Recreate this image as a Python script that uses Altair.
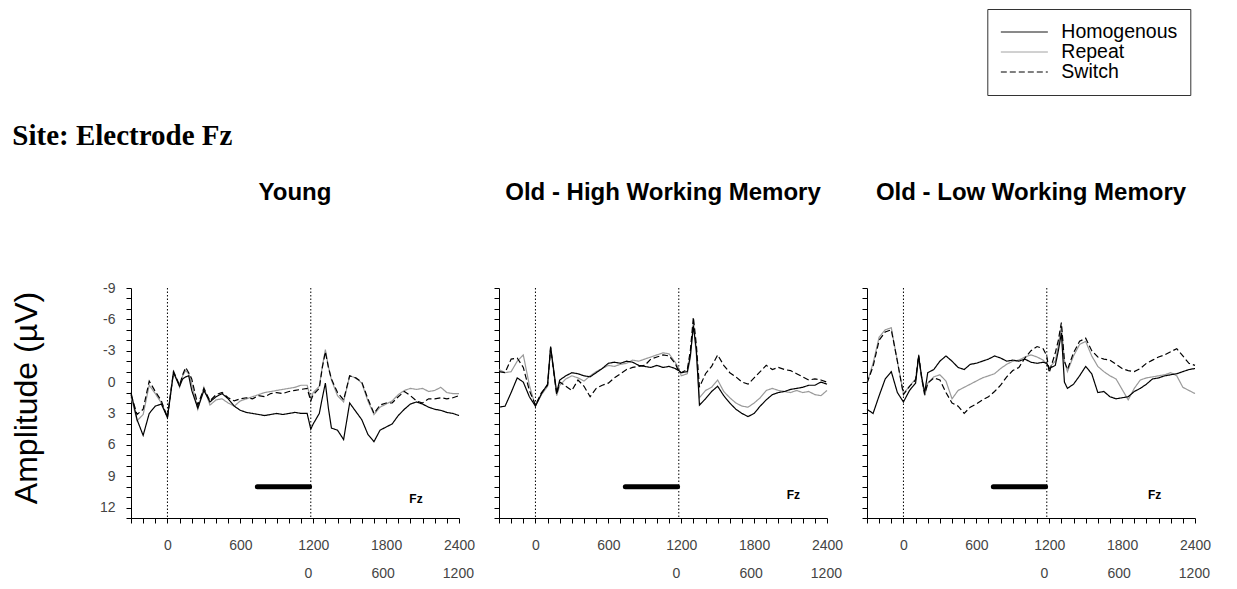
import altair as alt
import pandas as pd

# ---------------- data ----------------
TIMES = [-300, -250, -200, -150, -100, -50, 0, 50, 100, 125,
         150, 175, 200, 250, 300, 350, 400, 450, 500, 550,
         600, 650, 700, 750, 800, 850, 900, 950, 1000, 1050,
         1100, 1150, 1180, 1200, 1250, 1275, 1300, 1325, 1350, 1400,
         1450, 1500, 1550, 1600, 1650, 1700, 1750, 1800, 1850, 1900,
         1950, 2000, 2050, 2100, 2150, 2200, 2250, 2300, 2350, 2400]

CONDITIONS = ["Homogenous", "Repeat", "Switch"]
PANEL_TITLES = ["Young", "Old - High Working Memory", "Old - Low Working Memory"]

YOUNG_HOM = [1.0, 3.6, 5.1, 3.0, 2.3, 2.1, 3.4, -0.9, 0.4, -0.3,
             -0.5, -0.6, 0.8, 2.5, 0.8, 1.9, 1.4, 1.1, 1.6, 2.3,
             2.7, 2.9, 3.0, 3.1, 3.2, 3.1, 3.0, 3.1, 3.0, 2.9,
             3.0, 3.0, 4.5, 4.0, 3.0, 1.5, 0.1, 2.5, 4.4, 4.6,
             5.5, 2.0, 2.8, 3.6, 5.0, 5.7, 4.6, 4.3, 4.0, 3.2,
             2.6, 2.1, 1.9, 2.1, 2.4, 2.6, 2.7, 2.9, 3.0, 3.2]
YOUNG_REP = [1.4, 3.7, 3.1, 0.3, 1.1, 2.0, 3.3, -1.1, 0.5, -0.6,
             -1.1, -0.8, 0.2, 2.6, 0.5, 2.2, 1.7, 1.6, 2.0, 2.3,
             1.8, 1.6, 1.4, 1.2, 1.0, 0.9, 0.8, 0.7, 0.6, 0.5,
             0.3, 0.3, 1.6, 1.0, 0.4, -1.5, -3.1, -1.5, -0.2, 1.3,
             1.9, -0.6, -0.4, 0.1, 1.8, 3.1, 2.4, 2.1, 1.8, 1.2,
             0.8, 0.6, 0.7, 0.6, 0.9, 0.8, 0.5, 1.0, 1.1, 1.1]
YOUNG_SWI = [1.2, 3.1, 2.6, -0.1, 0.9, 1.8, 3.4, -1.0, 0.3, -0.7,
             -1.4, -0.9, -0.3, 2.2, 0.6, 1.8, 1.2, 1.0, 1.5, 1.8,
             1.6, 1.5, 1.6, 1.3, 1.4, 1.1, 1.0, 1.1, 0.9, 0.8,
             0.7, 0.6, 1.8, 1.2, 0.6, -1.4, -2.9, -1.4, -0.3, 1.0,
             1.7, -0.6, -0.4, 0.0, 1.6, 3.0, 2.2, 2.0, 2.0, 1.4,
             0.9, 1.3, 1.8, 2.0, 1.6, 1.6, 1.5, 1.6, 1.5, 1.3]

HIGH_HOM = [2.4, 2.3, 1.0, -0.4, 0.0, 1.4, 2.3, 1.1, 0.2, -3.4,
            -1.2, 1.0, -0.2, -0.6, -0.9, -0.8, -0.6, -0.5, -0.9, -1.3,
            -1.8, -1.9, -1.8, -2.0, -1.9, -1.6, -1.5, -1.4, -1.6, -1.4,
            -1.5, -1.3, -1.1, -0.9, -1.0, -2.5, -5.4, -3.0, 2.2, 1.6,
            0.9, 0.4, 1.3, 2.0, 2.6, 3.0, 3.3, 3.0, 2.3, 1.7,
            1.2, 1.0, 0.9, 0.7, 0.6, 0.5, 0.3, 0.3, 0.0, 0.2]
HIGH_REP = [-1.2, -0.9, -1.0, -2.0, -2.6, 0.3, 2.3, 1.2, 0.4, -3.2,
            -1.0, 1.3, 0.3, -0.3, -0.6, -0.4, -0.1, -0.6, -1.0, -1.3,
            -1.6, -1.5, -1.7, -1.8, -2.1, -2.0, -2.2, -2.4, -2.6, -2.8,
            -2.7, -1.9, -1.3, -0.6, -0.8, -2.3, -5.6, -2.5, 1.5, 0.8,
            0.5, -0.2, 0.9, 1.5, 2.0, 2.3, 2.4, 2.0, 1.5, 0.8,
            0.6, 0.8, 0.9, 1.0, 0.8, 1.0, 0.9, 1.2, 1.3, 0.8]
HIGH_SWI = [-1.0, -0.9, -2.2, -2.3, -1.4, 0.8, 2.2, 1.0, 0.3, -3.3,
            -1.0, 1.2, 0.0, 0.4, 0.8, -0.2, 0.4, 1.4, 0.6, 0.3,
            0.1, -0.4, -0.8, -1.2, -1.4, -1.5, -1.6, -2.2, -2.4, -2.6,
            -2.5, -1.8, -1.0, -0.9, -1.2, -3.0, -6.2, -3.5, 0.5, -0.8,
            -1.5, -2.6, -1.6, -0.9, -0.5, 0.0, 0.2, -0.4, -1.0, -1.6,
            -1.2, -1.4, -1.2, -1.1, -0.8, -0.5, -0.2, -0.3, -0.2, 0.0]

LOW_HOM = [2.6, 3.0, 1.3, -0.3, -1.0, 1.0, 1.9, 0.8, 0.1, -2.5,
           -0.5, 1.0, -0.9, -1.2, -2.0, -2.5, -2.0, -1.4, -1.2, -1.7,
           -1.8, -2.0, -2.2, -2.5, -2.3, -2.0, -2.1, -2.0, -2.2, -1.9,
           -1.8, -1.9, -1.8, -1.3, -1.6, -3.0, -4.7, 0.0, 0.6, 0.2,
           -0.6, -1.5, -0.8, 1.0, 0.9, 1.4, 1.6, 1.5, 1.4, 0.9,
           0.6, 0.2, -0.3, -0.4, -0.6, -0.7, -0.8, -1.0, -1.2, -1.3]
LOW_REP = [0.1, -1.8, -4.3, -5.0, -5.2, -2.0, 1.1, 0.4, -0.3, -2.4,
           -0.3, 1.3, 0.1, -0.5, -0.7, -0.1, 1.6, 0.8, 0.5, 0.2,
           -0.1, -0.4, -0.6, -0.8, -1.3, -1.7, -2.0, -2.1, -2.4, -2.6,
           -2.4, -2.1, -1.7, -1.4, -2.0, -3.5, -5.4, -2.0, -1.0, -2.5,
           -3.6, -3.9, -2.5, -1.5, -1.0, -0.6, -0.3, 0.7, 1.7, 0.6,
           -0.2, -0.4, -0.5, -0.6, -0.7, -0.9, -0.6, 0.5, 0.8, 1.1]
LOW_SWI = [0.1, -1.5, -4.0, -4.8, -5.0, -2.0, 1.2, 0.4, -0.2, -2.6,
           -0.4, 1.2, 0.1, -0.4, -0.2, 1.0, 2.0, 2.3, 3.0, 2.4,
           2.1, 1.7, 1.4, 0.9, 0.3, -0.5, -1.1, -1.4, -2.3, -3.0,
           -3.4, -3.2, -2.5, -0.9, -2.8, -4.0, -5.7, -2.0, -1.2, -2.8,
           -3.9, -4.2, -3.0, -2.4, -2.2, -2.1, -1.7, -1.3, -1.1, -1.0,
           -1.3, -1.8, -2.1, -2.4, -2.6, -2.9, -3.2, -2.5, -1.8, -1.6]

PANEL_SERIES = [
    [YOUNG_HOM, YOUNG_REP, YOUNG_SWI],
    [HIGH_HOM, HIGH_REP, HIGH_SWI],
    [LOW_HOM, LOW_REP, LOW_SWI],
]

X_TICKS = list(range(-300, 2401, 100))
Y_TICKS = list(range(-9, 14))
CUE_LINES = [0, 1180]
BAR_START = [740]
BAR_END = [1170]
BAR_AMP = [10]
FZ_TIME = [2046, 2123, 2068]
FZ_AMP = [11.2, 10.8, 10.8]
SECOND_ROW_TIME = [1160, 1775, 2395]
SECOND_ROW_LABELS = ["0", "600", "1200"]

# ---------------- styling ----------------
W, H = 328, 230
FONT = "Liberation Sans"

LEG = alt.Legend(
    orient="none", legendX=856.3, legendY=-279, title=None,
    symbolType="stroke", symbolSize=2209, symbolStrokeWidth=1,
    labelFont=FONT, labelFontSize=19.5, labelColor="black", labelOffset=13,
    rowPadding=0, padding=13, strokeColor="#333333", clipHeight=20,
    labelLimit=400,
)

color_enc = alt.Color(
    "condition:N",
    scale=alt.Scale(domain=CONDITIONS, range=["#000000", "#9a9a9a", "#000000"]),
    legend=LEG,
)
dash_enc = alt.StrokeDash(
    "condition:N",
    scale=alt.Scale(domain=CONDITIONS, range=[[1, 0], [1, 0], [6, 3]]),
    legend=LEG,
)

common_axis = dict(
    grid=False, domainColor="black", domainWidth=1, tickColor="black",
    tickWidth=1, tickSize=5, labelFont=FONT, labelFontSize=14,
    labelColor="#444444", labelOverlap=False,
)


def make_panel(i, show_y, title_offset):
    hom, rep, swi = PANEL_SERIES[i]
    df = pd.DataFrame({
        "time": TIMES * 3,
        "amp": hom + rep + swi,
        "condition": [c for c in CONDITIONS for _ in TIMES],
    })

    x_axis = alt.Axis(
        values=X_TICKS, title=None, labelPadding=15, labelFlush=False,
        labelExpr="datum.value >= 0 && datum.value % 600 == 0 ? '' + datum.value : ''",
        **common_axis,
    )
    if show_y:
        y_axis = alt.Axis(
            values=Y_TICKS, labelPadding=11,
            labelExpr="datum.value % 3 == 0 && datum.value <= 12 ? '' + datum.value : ''",
            title="Amplitude (\u00b5V)", titleX=-94.7, titleY=109.5, titleAngle=270,
            titleBaseline="alphabetic", titleAlign="center", titleFont=FONT,
            titleFontSize=32, titleFontWeight="normal", titleColor="black",
            **common_axis,
        )
    else:
        y_axis = alt.Axis(values=Y_TICKS, labels=False, title=None, **common_axis)

    X = alt.X("time:Q", scale=alt.Scale(domain=[-300, 2400], nice=False, zero=False), axis=x_axis)
    Y = alt.Y("amp:Q", scale=alt.Scale(domain=[-9, 13], reverse=True, nice=False, zero=False), axis=y_axis)

    layers = []
    for cond in ["Repeat", "Homogenous", "Switch"]:
        layers.append(
            alt.Chart(df).transform_filter(alt.datum.condition == cond)
            .mark_line(strokeWidth=1.2)
            .encode(x=X, y=Y, color=color_enc, strokeDash=dash_enc)
        )

    cue = alt.Chart(pd.DataFrame({"time": CUE_LINES})).mark_rule(
        color="black", strokeWidth=1, strokeDash=[1.5, 2]
    ).encode(x=X)

    bar = alt.Chart(pd.DataFrame({"time": BAR_START, "time_end": BAR_END, "amp": BAR_AMP})).mark_rule(
        color="black", strokeWidth=5, strokeCap="round"
    ).encode(x=X, x2="time_end:Q", y=Y)

    fz = alt.Chart(pd.DataFrame({"time": [FZ_TIME[i]], "amp": [FZ_AMP[i]], "label": ["Fz"]})).mark_text(
        font=FONT, fontSize=12, fontWeight="bold", color="black", align="center", baseline="middle"
    ).encode(x=X, y=Y, text="label:N")

    row2 = alt.Chart(pd.DataFrame({"time": SECOND_ROW_TIME, "label": SECOND_ROW_LABELS})).mark_text(
        font=FONT, fontSize=14, color="#444444", align="center", baseline="middle"
    ).encode(x=X, y=alt.value(286), text="label:N")

    return alt.layer(*layers, cue, bar, fz, row2).properties(
        width=W, height=H,
        title=alt.TitleParams(
            PANEL_TITLES[i], font=FONT, fontSize=24, fontWeight="bold", color="black",
            anchor="middle", frame="group", baseline="alphabetic", offset=title_offset,
        ),
    )


p1 = make_panel(0, True, 57.5)
p2 = make_panel(1, False, 64)
p3 = make_panel(2, False, 64)

chart = (
    alt.hconcat(p1, p2, p3, spacing=40, bounds="flush")
    .resolve_scale(color="shared", strokeDash="shared")
    .properties(
        title=alt.TitleParams(
            "Site: Electrode Fz", font="Liberation Serif", fontSize=29, fontWeight="bold",
            color="black", anchor="start", frame="group", dx=-118.7, offset=-165,
            baseline="alphabetic",
        ),
        padding={"left": 2, "top": 0, "right": 5, "bottom": 0},
        background="white",
    )
    .configure_view(stroke=None)
)

chart.save("out.html", embed_options={"renderer": "svg", "actions": False})
